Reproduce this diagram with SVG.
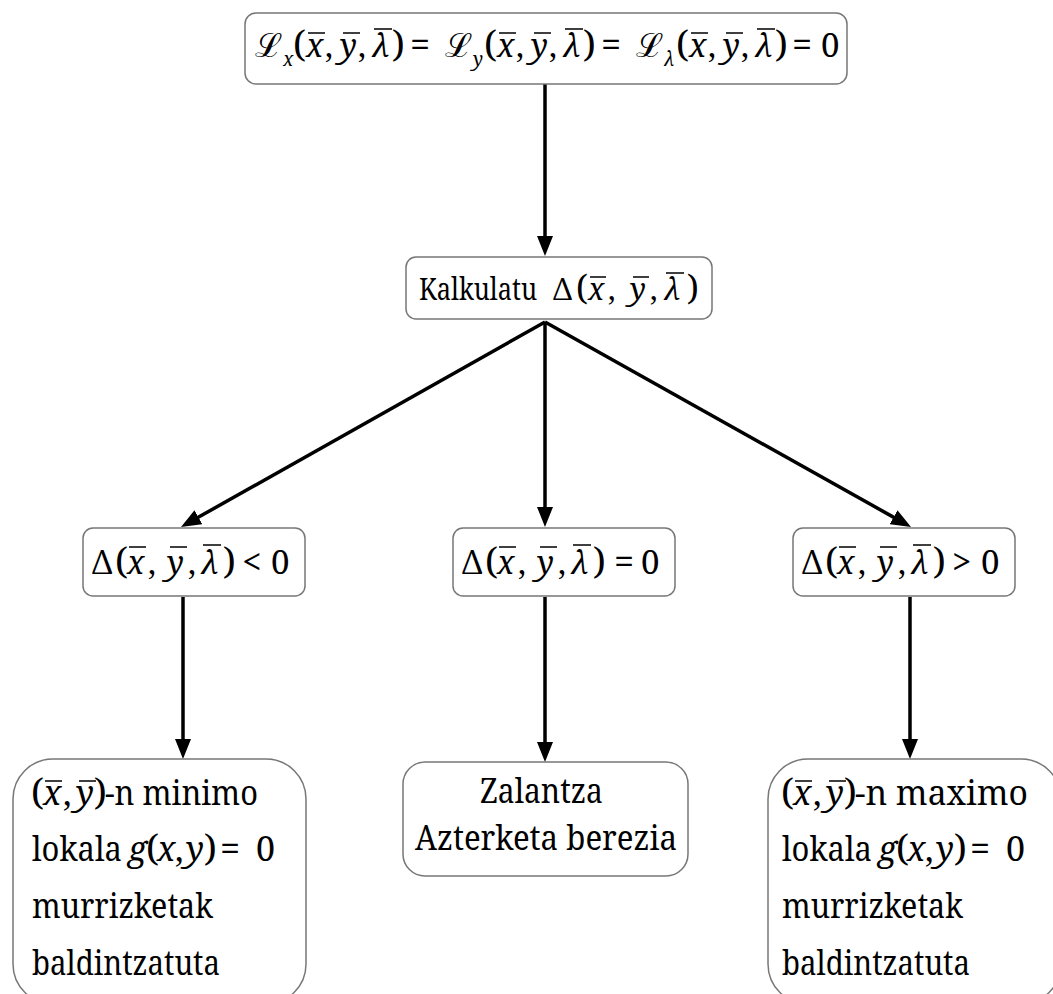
<svg xmlns="http://www.w3.org/2000/svg" width="1053" height="994" viewBox="0 0 1053 994">
<style>
.bx{fill:#fff;stroke:#777;stroke-width:1.5}
.i{font-style:italic}
.p{font-size:37px}
.e{font-size:36px}
.ov{stroke:#000;stroke-width:1.6}
.c{stroke:#000;stroke-width:3.5;fill:none;marker-end:url(#ah)}
</style>
<defs>
<marker id="ah" viewBox="0 0 20 16" markerWidth="20" markerHeight="16" refX="10" refY="8" orient="auto" markerUnits="userSpaceOnUse">
<path d="M0,0 L20,8 L0,16 Z" fill="#000"/>
</marker>
</defs>
<rect width="1053" height="994" fill="#fff"/>
<g id="connectors">
<path class="c" d="M545,84 L545,246"/>
<path class="c" d="M545,322 L189.7,522.1"/>
<path class="c" d="M545,322 L545,517"/>
<path class="c" d="M545,322 L902.3,522.1"/>
<path class="c" d="M183,597 L183,749"/>
<path class="c" d="M545,597 L545,752"/>
<path class="c" d="M910,597 L910,749"/>
</g>
<g font-family="'Noto Serif', 'DejaVu Serif', serif" fill="#000">
<g id="n1">
<rect class="bx" x="245" y="13" width="602" height="71" rx="11"/>
<text font-size="32" y="57"><tspan x="255" font-size="33">ℒ</tspan><tspan x="283" y="66" font-size="19" class="i">x</tspan><tspan x="293" y="57" class="p">(</tspan><tspan x="306" class="i">x</tspan><tspan x="325">,</tspan><tspan x="340" class="i">y</tspan><tspan x="358">,</tspan><tspan x="372" class="i">λ</tspan><tspan x="392" class="p">)</tspan><tspan x="410" class="e">=</tspan><tspan x="445" font-size="33">ℒ</tspan><tspan x="473" y="66" font-size="19" class="i">y</tspan><tspan x="484" y="57" class="p">(</tspan><tspan x="497" class="i">x</tspan><tspan x="516">,</tspan><tspan x="531" class="i">y</tspan><tspan x="549">,</tspan><tspan x="563" class="i">λ</tspan><tspan x="583" class="p">)</tspan><tspan x="601" class="e">=</tspan><tspan x="636" font-size="33">ℒ</tspan><tspan x="664" y="66" font-size="19" class="i">λ</tspan><tspan x="676" y="57" class="p">(</tspan><tspan x="689" class="i">x</tspan><tspan x="708">,</tspan><tspan x="723" class="i">y</tspan><tspan x="741">,</tspan><tspan x="755" class="i">λ</tspan><tspan x="775" class="p">)</tspan><tspan x="792" class="e">=</tspan><tspan x="821" font-size="33">0</tspan></text>
<path class="ov" d="M308,33H325M343,33H360M374,29H392M499,33H516M534,33H551M565,29H583M691,33H708M726,33H743M757,29H775"/>
</g>
<g id="n2">
<rect class="bx" x="406" y="257" width="306" height="62" rx="10"/>
<text font-size="30" y="300"><tspan x="419" textLength="118" lengthAdjust="spacingAndGlyphs">Kalkulatu</tspan><tspan x="553">Δ</tspan><tspan x="576" font-size="34">(</tspan><tspan x="588" class="i">x</tspan><tspan x="608">,</tspan><tspan x="630" class="i">y</tspan><tspan x="650">,</tspan><tspan x="664" class="i">λ</tspan><tspan x="687" font-size="34">)</tspan></text>
<path class="ov" d="M590,277H606M633,277H649M666,273H684"/>
</g>
<g id="n3">
<rect class="bx" x="83" y="528" width="222" height="68" rx="10"/>
<text font-size="32" y="574"><tspan x="92">Δ</tspan><tspan x="115" class="p">(</tspan><tspan x="127" class="i">x</tspan><tspan x="148">,</tspan><tspan x="167" class="i">y</tspan><tspan x="188">,</tspan><tspan x="201" class="i">λ</tspan><tspan x="223" class="p">)</tspan><tspan x="242" font-size="35">&lt;</tspan><tspan x="271" font-size="33">0</tspan></text>
<path class="ov" d="M129,547H146M170,547H187M203,545H221"/>
</g>
<g id="n4">
<rect class="bx" x="453" y="528" width="222" height="68" rx="10"/>
<text font-size="32" y="574"><tspan x="462">Δ</tspan><tspan x="485" class="p">(</tspan><tspan x="497" class="i">x</tspan><tspan x="518">,</tspan><tspan x="537" class="i">y</tspan><tspan x="558">,</tspan><tspan x="571" class="i">λ</tspan><tspan x="593" class="p">)</tspan><tspan x="614" class="e">=</tspan><tspan x="641" font-size="33">0</tspan></text>
<path class="ov" d="M499,547H516M540,547H557M573,545H591"/>
</g>
<g id="n5">
<rect class="bx" x="793" y="528" width="222" height="68" rx="10"/>
<text font-size="32" y="574"><tspan x="802">Δ</tspan><tspan x="825" class="p">(</tspan><tspan x="837" class="i">x</tspan><tspan x="858">,</tspan><tspan x="877" class="i">y</tspan><tspan x="898">,</tspan><tspan x="911" class="i">λ</tspan><tspan x="933" class="p">)</tspan><tspan x="952" font-size="35">&gt;</tspan><tspan x="981" font-size="33">0</tspan></text>
<path class="ov" d="M839,547H856M880,547H897M913,545H931"/>
</g>
<g id="n6">
<rect class="bx" x="13" y="759" width="293" height="245" rx="40"/>
<text font-size="34" y="805"><tspan x="31" font-size="37">(</tspan><tspan x="43" class="i">x</tspan><tspan x="63">,</tspan><tspan x="76" class="i">y</tspan><tspan x="94" font-size="37">)</tspan><tspan x="105" textLength="153" lengthAdjust="spacingAndGlyphs">-n minimo</tspan></text>
<path class="ov" d="M45,781H62M79,781H96"/>
<text font-size="34" y="861"><tspan x="32" textLength="90" lengthAdjust="spacingAndGlyphs">lokala</tspan><tspan x="128" class="i">g</tspan><tspan x="146" font-size="37">(</tspan><tspan x="157" class="i">x</tspan><tspan x="175">,</tspan><tspan x="186" class="i">y</tspan><tspan x="204" font-size="37">)</tspan><tspan x="220" class="e">=</tspan><tspan x="256">0</tspan></text>
<text font-size="34" x="32" y="918" textLength="181" lengthAdjust="spacingAndGlyphs">murrizketak</text>
<text font-size="34" x="32" y="975" textLength="188" lengthAdjust="spacingAndGlyphs">baldintzatuta</text>
</g>
<g id="n7">
<rect class="bx" x="403" y="762" width="285" height="114" rx="22"/>
<text font-size="34" x="480" y="803" textLength="123" lengthAdjust="spacingAndGlyphs">Zalantza</text>
<text font-size="34" x="415" y="850" textLength="262" lengthAdjust="spacingAndGlyphs">Azterketa berezia</text>
</g>
<g id="n8">
<rect class="bx" x="768" y="759" width="293" height="245" rx="40"/>
<text font-size="34" y="805"><tspan x="781" font-size="37">(</tspan><tspan x="793" class="i">x</tspan><tspan x="813">,</tspan><tspan x="826" class="i">y</tspan><tspan x="844" font-size="37">)</tspan><tspan x="855" textLength="173" lengthAdjust="spacingAndGlyphs">-n maximo</tspan></text>
<path class="ov" d="M795,781H812M829,781H846"/>
<text font-size="34" y="861"><tspan x="782" textLength="90" lengthAdjust="spacingAndGlyphs">lokala</tspan><tspan x="878" class="i">g</tspan><tspan x="896" font-size="37">(</tspan><tspan x="907" class="i">x</tspan><tspan x="925">,</tspan><tspan x="936" class="i">y</tspan><tspan x="954" font-size="37">)</tspan><tspan x="970" class="e">=</tspan><tspan x="1006">0</tspan></text>
<text font-size="34" x="782" y="918" textLength="181" lengthAdjust="spacingAndGlyphs">murrizketak</text>
<text font-size="34" x="782" y="975" textLength="188" lengthAdjust="spacingAndGlyphs">baldintzatuta</text>
</g>
</g>
</svg>
